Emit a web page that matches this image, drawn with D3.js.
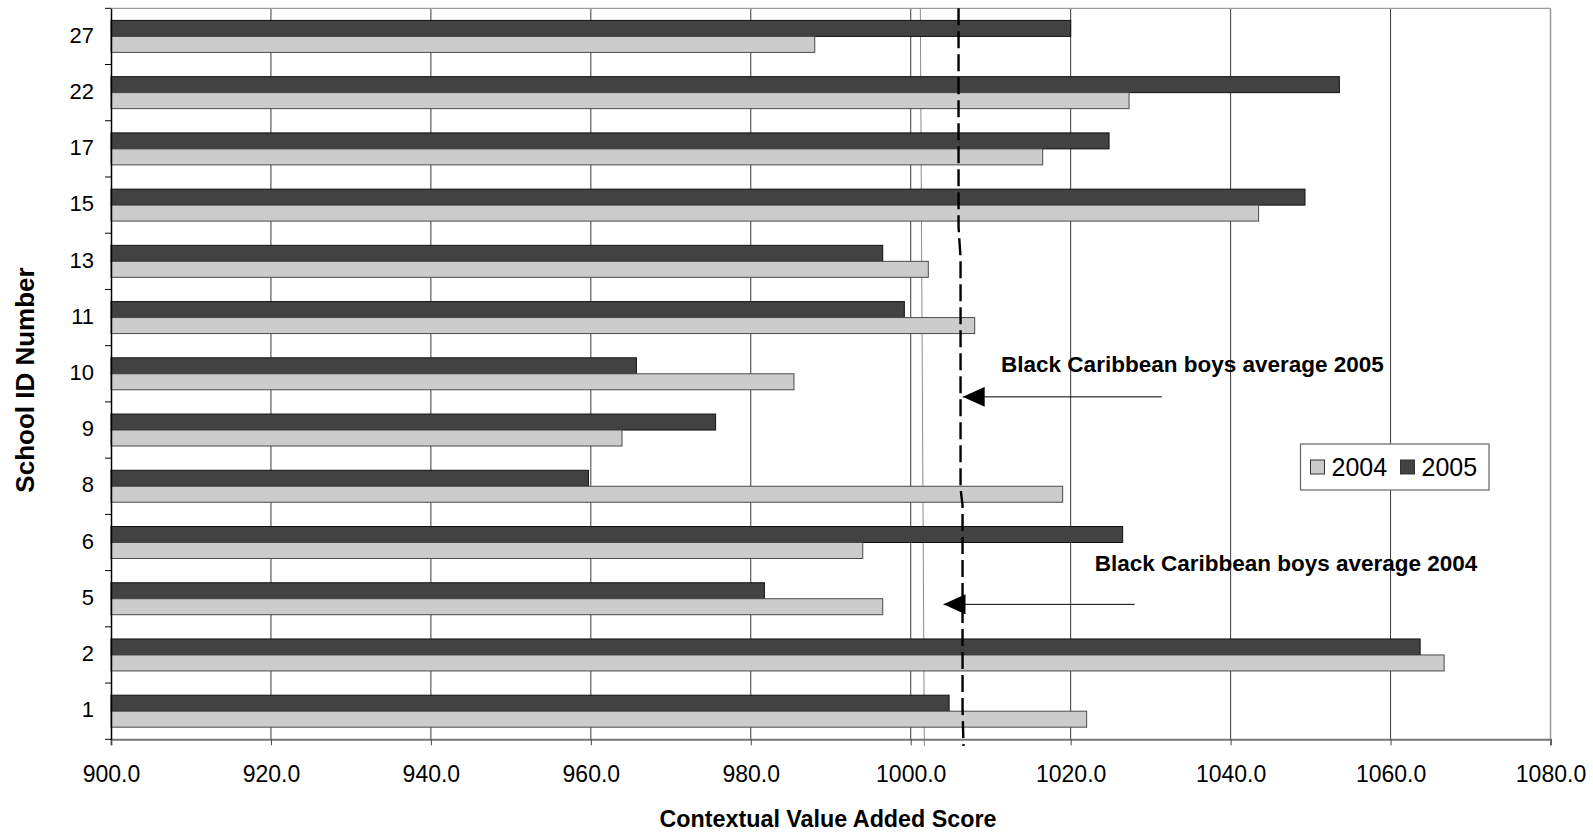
<!DOCTYPE html>
<html>
<head>
<meta charset="utf-8">
<script src="https://cdn.jsdelivr.net/npm/d3@7"></script>
<style>
  html, body { margin: 0; padding: 0; background: #fff; }
  svg { display: block; font-family: "Liberation Sans", Arial, sans-serif; }
</style>
</head>
<body>
<svg id="chart" width="1593" height="833"></svg>
<script>
// ---- data ----
const schools = ["27", "22", "17", "15", "13", "11", "10", "9", "8", "6", "5", "2", "1"];
const scores2004 = [988.0, 1027.3, 1016.5, 1043.5, 1002.2, 1008.0, 985.4, 963.9, 1019.0, 994.0, 996.5, 1066.7, 1022.0];
const scores2005 = [1020.0, 1053.6, 1024.8, 1049.3, 996.5, 999.2, 965.7, 975.6, 959.7, 1026.5, 981.7, 1063.7, 1004.8];
const series = ["2005", "2004"];          // top-to-bottom order inside each group
const legendSeries = ["2004", "2005"];
const xTicks = [900, 920, 940, 960, 980, 1000, 1020, 1040, 1060, 1080];

// hand-drawn average lines: [score, position in category bands from top]
const avgDashed = [[1005.98, 0], [1005.98, 3.89], [1006.23, 4.44], [1006.23, 8.54], [1006.48, 8.84], [1006.48, 12.45], [1006.6, 13.12]];
const avgThin = [[1001.2, 0], [1001.7, 13.12]];
// annotations: text, text score/band position, arrow from score, arrow tip score, arrow band
const notes = [
  { text: "Black Caribbean boys average 2005", tx: 1011.3, ty: 6.47, from: 1031.4, to: 1006.5, ay: 6.91 },
  { text: "Black Caribbean boys average 2004", tx: 1023.0, ty: 10.0, from: 1028.0, to: 1004.1, ay: 10.60 }
];

// ---- layout ----
const svg = d3.select("#chart");
const L = 111, R = 1550.5, T = 8.3, B = 739.3;
const colors = { "2004": "#cccccc", "2005": "#424242" };
const strokes = { "2004": "#4a4a4a", "2005": "#111111" };

const x = d3.scaleLinear().domain([900, 1080]).range([L, R]);
const y = d3.scaleBand().domain(schools).range([T, B]).paddingInner(0.4314).paddingOuter(0.2157);
const ySub = d3.scaleBand().domain(series).range([0, y.bandwidth()]);
const yPos = d3.scaleLinear().domain([0, schools.length]).range([T, B]);

const rows = schools.map((s, i) => ({ school: s, "2004": scores2004[i], "2005": scores2005[i] }));

// gridlines
svg.append("g").selectAll("line").data(xTicks.slice(1, -1)).join("line")
  .attr("x1", d => x(d)).attr("x2", d => x(d))
  .attr("y1", T).attr("y2", B)
  .attr("stroke", "#3a3a3a").attr("stroke-width", 1);

// plot border top/right
svg.append("line").attr("x1", L).attr("x2", R).attr("y1", T).attr("y2", T).attr("stroke", "#999").attr("stroke-width", 1.2);
svg.append("line").attr("x1", R).attr("x2", R).attr("y1", T).attr("y2", B).attr("stroke", "#999").attr("stroke-width", 1.5);

// thin average line
const line = d3.line().x(d => x(d[0])).y(d => yPos(d[1]));
svg.append("path").datum(avgThin).attr("d", line)
  .attr("fill", "none").attr("stroke", "#8a8a8a").attr("stroke-width", 1);

// bars
const groups = svg.append("g").selectAll("g").data(rows).join("g")
  .attr("transform", d => `translate(0,${y(d.school)})`);
groups.selectAll("rect").data(d => series.map(k => ({ key: k, value: d[k] }))).join("rect")
  .attr("x", x(900))
  .attr("y", d => ySub(d.key))
  .attr("width", d => x(d.value) - x(900))
  .attr("height", ySub.bandwidth())
  .attr("fill", d => colors[d.key])
  .attr("stroke", d => strokes[d.key])
  .attr("stroke-width", 1);

// dashed average line
svg.append("path").datum(avgDashed).attr("d", line)
  .attr("fill", "none").attr("stroke", "#000").attr("stroke-width", 2.4)
  .attr("stroke-dasharray", "17,6");

// axes
const xAxis = d3.axisBottom(x).tickValues(xTicks).tickFormat(d3.format(".1f")).tickSize(6).tickPadding(20);
const gx = svg.append("g").attr("transform", `translate(0,${B})`).call(xAxis);
gx.select(".domain").attr("stroke", "#777").attr("stroke-width", 2);
gx.selectAll(".tick line").attr("stroke", "#444");
gx.selectAll("text").attr("font-size", 23).attr("fill", "#000").attr("font-family", "Liberation Sans, Arial, sans-serif");

const yAxis = d3.axisLeft(y).tickSize(0).tickPadding(17);
const gy = svg.append("g").attr("transform", `translate(${L},0)`).call(yAxis);
gy.select(".domain").attr("stroke", "#000").attr("stroke-width", 1.5);
gy.selectAll("text").attr("font-size", 22).attr("fill", "#000").attr("dy", "0.28em").attr("font-family", "Liberation Sans, Arial, sans-serif");

// y boundary ticks
const bounds = d3.range(schools.length + 1);
svg.append("g").selectAll("line").data(bounds).join("line")
  .attr("x1", L - 6).attr("x2", L)
  .attr("y1", d => yPos(d)).attr("y2", d => yPos(d))
  .attr("stroke", "#000").attr("stroke-width", 1);

// axis titles
svg.append("text").attr("x", 828).attr("y", 826.5).attr("text-anchor", "middle")
  .attr("font-size", 23.3).attr("font-weight", "bold").text("Contextual Value Added Score");
svg.append("text").attr("transform", "translate(34,380) rotate(-90)").attr("text-anchor", "middle")
  .attr("font-size", 26).attr("font-weight", "bold").text("School ID Number");

// annotations
svg.append("defs").append("marker").attr("id", "arrow")
  .attr("viewBox", "0 0 22 20").attr("refX", 0).attr("refY", 10)
  .attr("markerWidth", 22).attr("markerHeight", 20).attr("markerUnits", "userSpaceOnUse")
  .attr("orient", "auto")
  .append("path").attr("d", "M0,10 L22,0 L22,20 Z").attr("fill", "#000");

const ng = svg.append("g").selectAll("g").data(notes).join("g");
ng.append("text").attr("x", d => x(d.tx)).attr("y", d => yPos(d.ty))
  .attr("font-size", 22.5).attr("font-weight", "bold").attr("fill", "#000").text(d => d.text);
ng.append("line")
  .attr("x1", d => x(d.to)).attr("x2", d => x(d.from))
  .attr("y1", d => yPos(d.ay)).attr("y2", d => yPos(d.ay))
  .attr("stroke", "#000").attr("stroke-width", 1)
  .attr("marker-start", "url(#arrow)");

// legend
const lg = svg.append("g").attr("transform", "translate(1300.5,444)");
lg.append("rect").attr("width", 188.5).attr("height", 46).attr("fill", "#fff").attr("stroke", "#666").attr("stroke-width", 1.2);
const items = lg.selectAll("g").data(legendSeries).join("g")
  .attr("transform", (d, i) => `translate(${10 + i * 90},0)`);
items.append("rect").attr("x", 0).attr("y", 16).attr("width", 14).attr("height", 14)
  .attr("fill", d => colors[d]).attr("stroke", "#333").attr("stroke-width", 1);
items.append("text").attr("x", 21).attr("y", 31.5).attr("font-size", 25).attr("fill", "#000").text(d => d);
</script>
</body>
</html>
